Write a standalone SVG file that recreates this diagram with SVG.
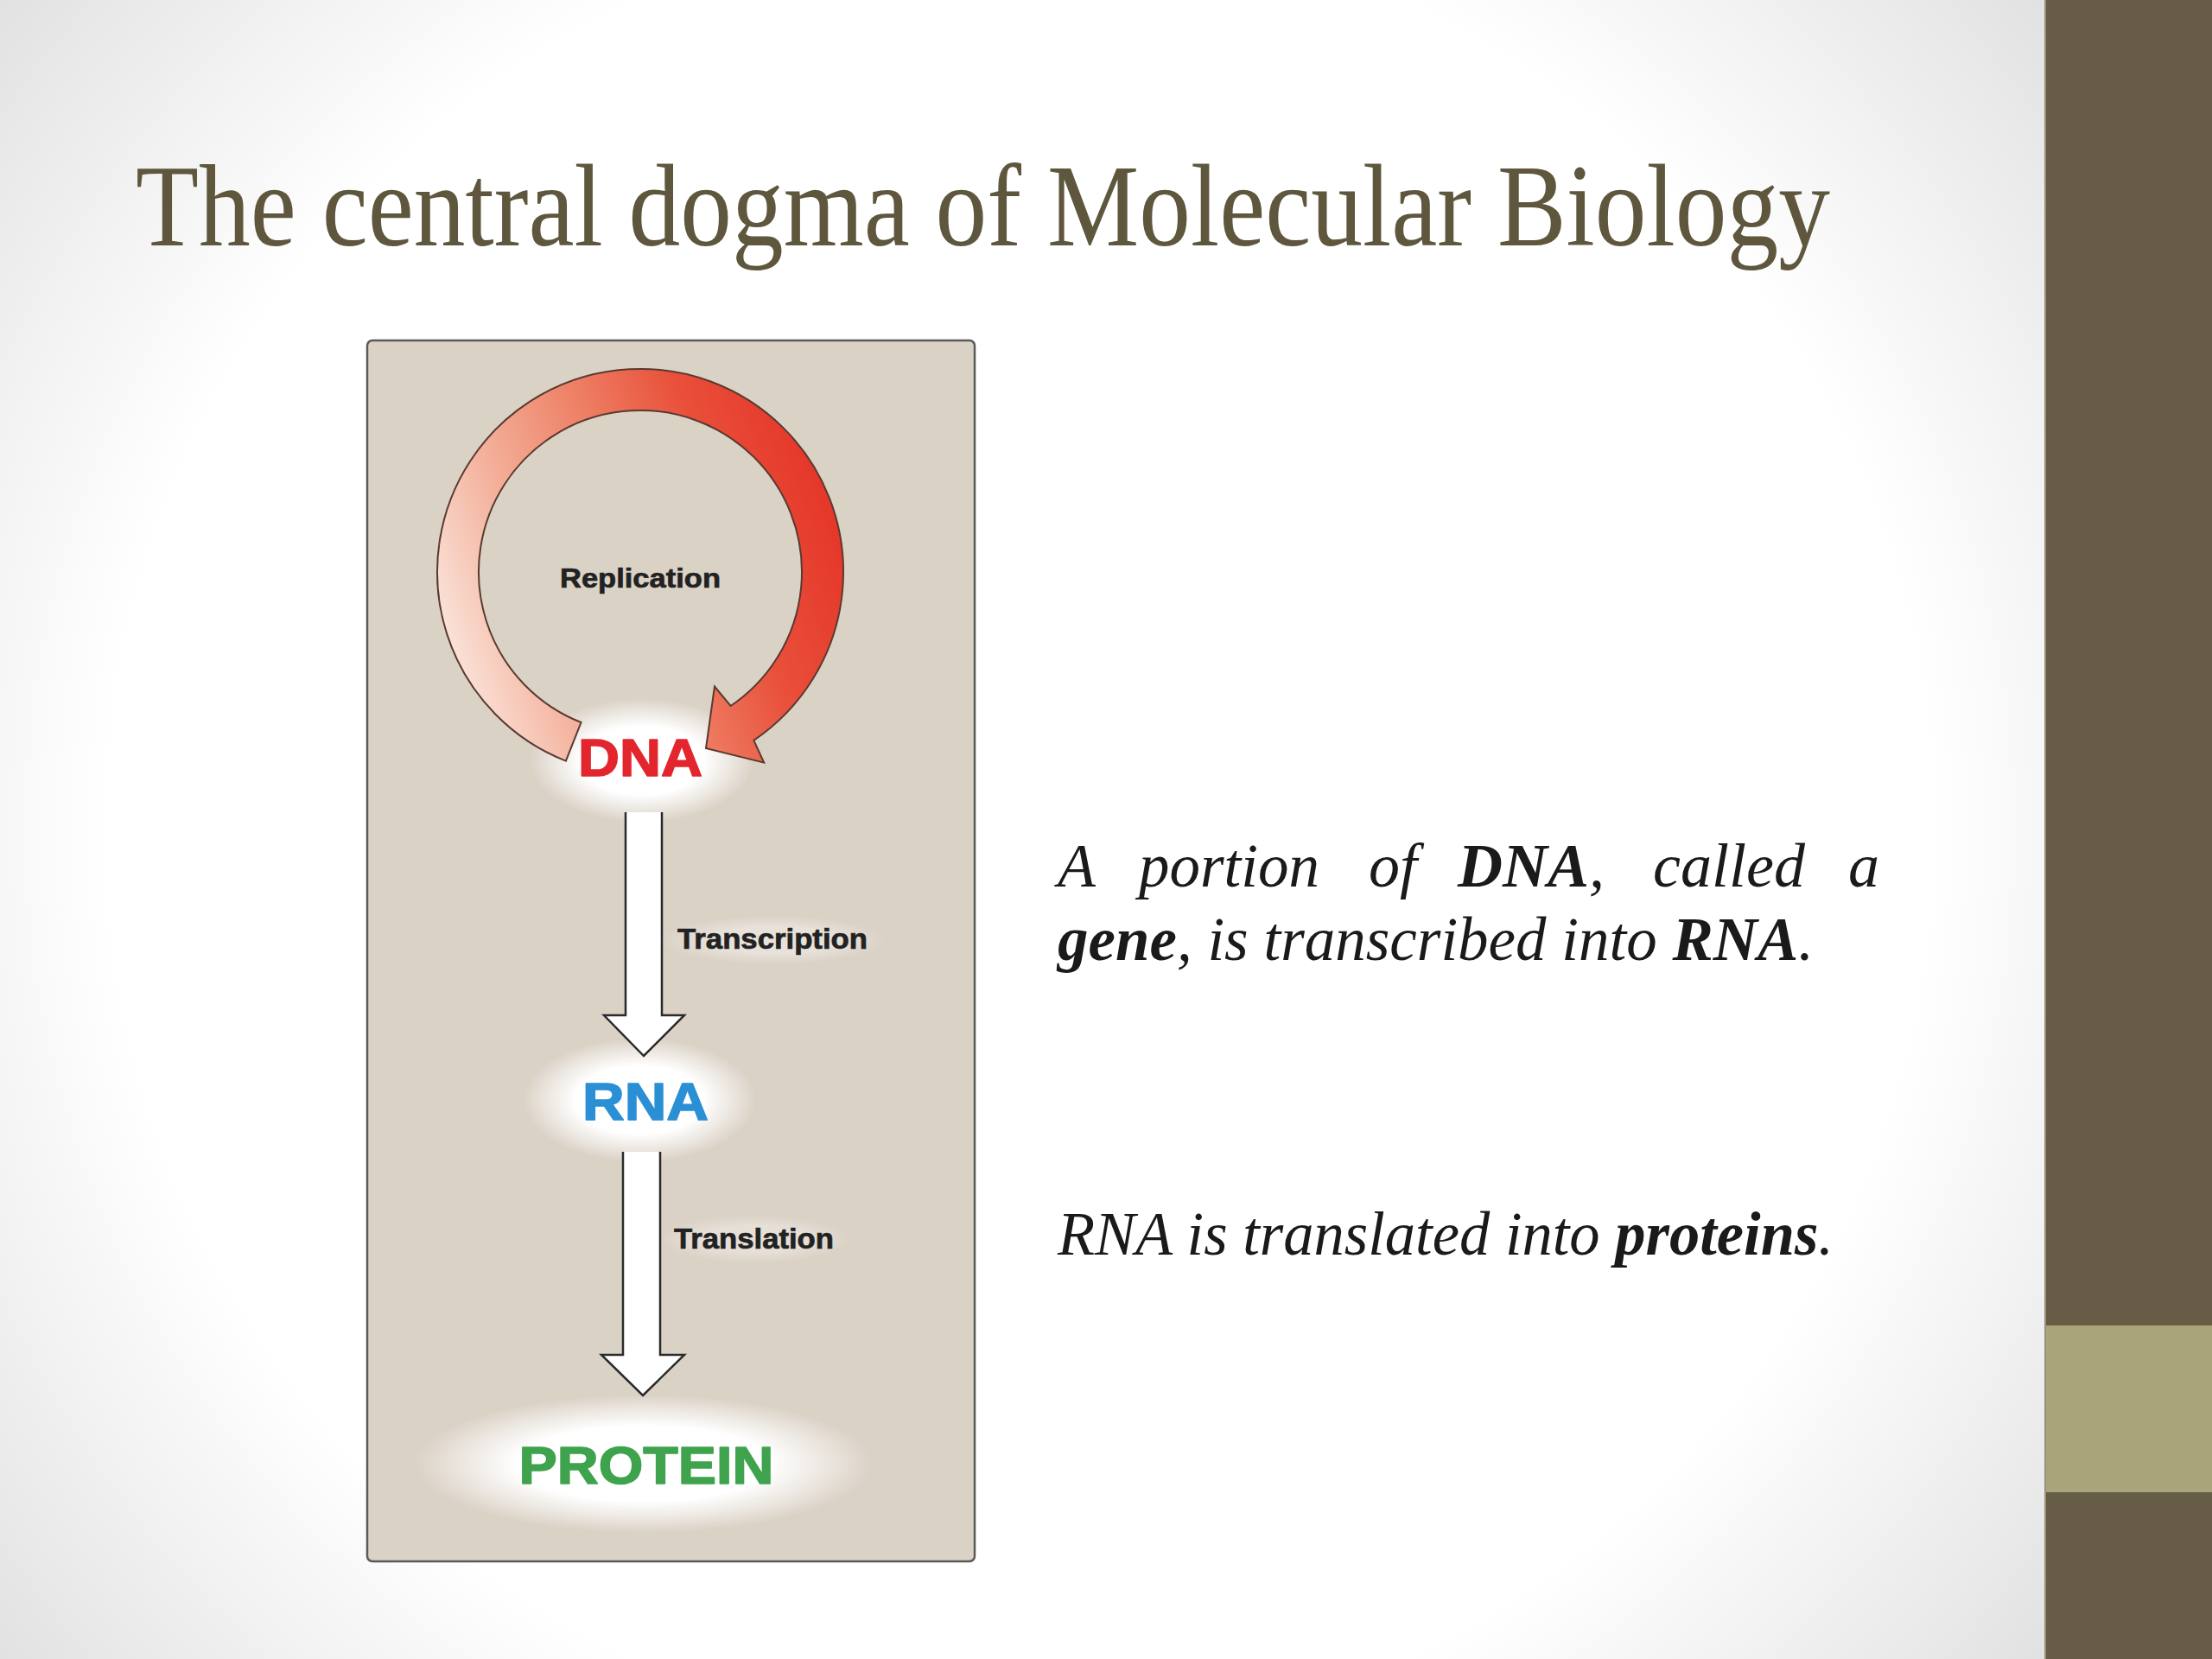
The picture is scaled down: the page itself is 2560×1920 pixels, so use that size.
<svg xmlns="http://www.w3.org/2000/svg" width="2560" height="1920" viewBox="0 0 2560 1920">
<defs>
<style>
.lbl{font-family:"Liberation Sans",Arial,sans-serif;font-weight:bold;fill:#222;stroke:#222;stroke-width:0.7;}
.mol{font-family:"Liberation Sans",Arial,sans-serif;font-weight:bold;text-anchor:middle;stroke-width:1.6;stroke-linejoin:round;}
.body{font-family:"Liberation Serif","Times New Roman",serif;font-style:italic;font-size:72px;fill:#1a1a1a;}
.b{font-weight:bold;}
.blk{fill:#ffffff;stroke:none;}
.blkline{fill:none;stroke:#2a2a2a;stroke-width:2.5;stroke-linejoin:miter;}
</style>
<radialGradient id="bg" cx="1180" cy="960" r="1550" gradientUnits="userSpaceOnUse">
<stop offset="0" stop-color="#ffffff"/>
<stop offset="0.68" stop-color="#ffffff"/>
<stop offset="1" stop-color="#e0e0e0"/>
</radialGradient>
<radialGradient id="glow">
<stop offset="0" stop-color="#ffffff" stop-opacity="1"/>
<stop offset="0.55" stop-color="#ffffff" stop-opacity="1"/>
<stop offset="1" stop-color="#ffffff" stop-opacity="0"/>
</radialGradient>
<linearGradient id="arcg" x1="520" y1="800" x2="980" y2="640" gradientUnits="userSpaceOnUse">
<stop offset="0" stop-color="#fbeae2"/>
<stop offset="0.25" stop-color="#f4b39e"/>
<stop offset="0.5" stop-color="#ee8368"/>
<stop offset="0.75" stop-color="#e9503a"/>
<stop offset="1" stop-color="#e5372a"/>
</linearGradient>
</defs>

<g id="background">
<rect x="0" y="0" width="2367" height="1920" fill="url(#bg)"/>
</g>

<g id="sidebar">
<rect x="2367" y="0" width="193" height="1920" fill="#675c45"/>
<rect x="2367" y="1534" width="193" height="193" fill="#a9a479"/>
<rect x="2366" y="0" width="2" height="1920" fill="#9a917c"/>
</g>

<g id="title">
<text x="157" y="284" font-family="'Liberation Serif','Times New Roman',serif" font-size="135" fill="#5f573d" textLength="1961" lengthAdjust="spacingAndGlyphs">The central dogma of Molecular Biology</text>
</g>

<g id="panel">
<rect x="425" y="394" width="703" height="1413" rx="6" fill="#dbd2c6" stroke="#5a5a5a" stroke-width="2.5"/>
</g>

<g id="glows">
<ellipse cx="743" cy="880" rx="130" ry="72" fill="url(#glow)"/>
<ellipse cx="740" cy="1273" rx="135" ry="72" fill="url(#glow)"/>
<ellipse cx="745" cy="1694" rx="265" ry="80" fill="url(#glow)"/>
<ellipse cx="895" cy="1088" rx="130" ry="28" fill="url(#glow)" opacity="0.35"/>
<ellipse cx="873" cy="1434" rx="110" ry="28" fill="url(#glow)" opacity="0.3"/>
</g>

<g id="replication">
<path d="M 654.9 880.6 A 235 235 0 1 1 872.4 856.8 L 884.2 882.6 L 817 866 L 827.0 794.5 L 845.6 817.0 A 187 187 0 1 0 672.5 836.0 Z" fill="url(#arcg)" stroke="#5a3a30" stroke-width="2"/>
<text class="lbl" x="741" y="680" font-size="32" text-anchor="middle" textLength="186" lengthAdjust="spacingAndGlyphs">Replication</text>
</g>

<g id="dna">
<text class="mol" x="741" y="898" font-size="62" fill="#e3262e" stroke="#e3262e" textLength="144" lengthAdjust="spacingAndGlyphs">DNA</text>
</g>

<g id="rna">
<text class="mol" x="747" y="1296" font-size="62" fill="#2b8fd6" stroke="#2b8fd6" textLength="146" lengthAdjust="spacingAndGlyphs">RNA</text>
</g>

<g id="protein">
<text class="mol" x="748" y="1717" font-size="62" fill="#3fa34d" stroke="#3fa34d" textLength="295" lengthAdjust="spacingAndGlyphs">PROTEIN</text>
</g>

<g id="connectors">
<g id="transcription">
<polygon class="blk" points="724,940 766,940 766,1175 792,1175 745,1222 699,1175 724,1175"/>
<polyline class="blkline" points="766,940 766,1175 792,1175 745,1222 699,1175 724,1175 724,940"/>
<text class="lbl" x="784" y="1098" font-size="33" textLength="220" lengthAdjust="spacingAndGlyphs">Transcription</text>
</g>
<g id="translation">
<polygon class="blk" points="721,1333 764,1333 764,1568 792,1568 744,1615 696,1568 721,1568"/>
<polyline class="blkline" points="764,1333 764,1568 792,1568 744,1615 696,1568 721,1568 721,1333"/>
<text class="lbl" x="780" y="1445" font-size="33" textLength="185" lengthAdjust="spacingAndGlyphs">Translation</text>
</g>
</g>

<g id="description">
<text class="body" y="1026"><tspan x="1224">A</tspan><tspan x="1318" textLength="209" lengthAdjust="spacingAndGlyphs">portion</tspan><tspan x="1584">of</tspan><tspan x="1687" class="b">DNA</tspan><tspan>,</tspan><tspan x="1913">called</tspan><tspan x="2139">a</tspan></text>
<text class="body" x="1224" y="1111" textLength="875" lengthAdjust="spacingAndGlyphs"><tspan class="b">gene</tspan>, is transcribed into <tspan class="b">RNA</tspan>.</text>
<text class="body" x="1224" y="1452" textLength="898" lengthAdjust="spacingAndGlyphs">RNA is translated into <tspan class="b">proteins</tspan>.</text>
</g>
</svg>
